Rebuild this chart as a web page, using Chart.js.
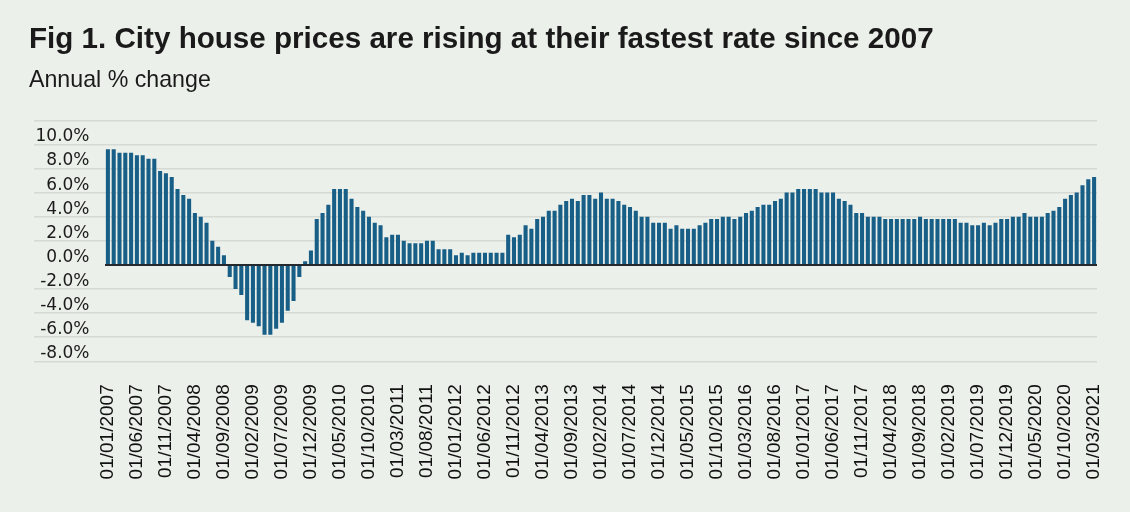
<!DOCTYPE html>
<html>
<head>
<meta charset="utf-8">
<script src="https://cdn.jsdelivr.net/npm/chart.js@4.4.1/dist/chart.umd.min.js"></script>
<style>
  html, body { margin: 0; padding: 0; background: #ecf0eb; }
  #wrap { position: relative; width: 1130px; height: 512px; overflow: hidden; }
  #chart { position: absolute; left: 0; top: 0; }
  .title { position: absolute; left: 29px; top: 23px; font: bold 29.6px "Liberation Sans", Arial, sans-serif; line-height: 1; color: #1a1a1a; white-space: nowrap; }
  .subtitle { position: absolute; left: 29px; top: 68px; font: 23.2px "Liberation Sans", Arial, sans-serif; line-height: 1; color: #1a1a1a; white-space: nowrap; }
</style>
</head>
<body>
<div id="wrap">
  <canvas id="chart" width="1130" height="512"></canvas>
  <div class="title">Fig 1. City house prices are rising at their fastest rate since 2007</div>
  <div class="subtitle">Annual % change</div>
</div>
<script>
// Meses (primer día de cada mes)
const categories = [
  "01/01/2007","01/02/2007","01/03/2007","01/04/2007","01/05/2007","01/06/2007","01/07/2007","01/08/2007","01/09/2007","01/10/2007","01/11/2007","01/12/2007",
  "01/01/2008","01/02/2008","01/03/2008","01/04/2008","01/05/2008","01/06/2008","01/07/2008","01/08/2008","01/09/2008","01/10/2008","01/11/2008","01/12/2008",
  "01/01/2009","01/02/2009","01/03/2009","01/04/2009","01/05/2009","01/06/2009","01/07/2009","01/08/2009","01/09/2009","01/10/2009","01/11/2009","01/12/2009",
  "01/01/2010","01/02/2010","01/03/2010","01/04/2010","01/05/2010","01/06/2010","01/07/2010","01/08/2010","01/09/2010","01/10/2010","01/11/2010","01/12/2010",
  "01/01/2011","01/02/2011","01/03/2011","01/04/2011","01/05/2011","01/06/2011","01/07/2011","01/08/2011","01/09/2011","01/10/2011","01/11/2011","01/12/2011",
  "01/01/2012","01/02/2012","01/03/2012","01/04/2012","01/05/2012","01/06/2012","01/07/2012","01/08/2012","01/09/2012","01/10/2012","01/11/2012","01/12/2012",
  "01/01/2013","01/02/2013","01/03/2013","01/04/2013","01/05/2013","01/06/2013","01/07/2013","01/08/2013","01/09/2013","01/10/2013","01/11/2013","01/12/2013",
  "01/01/2014","01/02/2014","01/03/2014","01/04/2014","01/05/2014","01/06/2014","01/07/2014","01/08/2014","01/09/2014","01/10/2014","01/11/2014","01/12/2014",
  "01/01/2015","01/02/2015","01/03/2015","01/04/2015","01/05/2015","01/06/2015","01/07/2015","01/08/2015","01/09/2015","01/10/2015","01/11/2015","01/12/2015",
  "01/01/2016","01/02/2016","01/03/2016","01/04/2016","01/05/2016","01/06/2016","01/07/2016","01/08/2016","01/09/2016","01/10/2016","01/11/2016","01/12/2016",
  "01/01/2017","01/02/2017","01/03/2017","01/04/2017","01/05/2017","01/06/2017","01/07/2017","01/08/2017","01/09/2017","01/10/2017","01/11/2017","01/12/2017",
  "01/01/2018","01/02/2018","01/03/2018","01/04/2018","01/05/2018","01/06/2018","01/07/2018","01/08/2018","01/09/2018","01/10/2018","01/11/2018","01/12/2018",
  "01/01/2019","01/02/2019","01/03/2019","01/04/2019","01/05/2019","01/06/2019","01/07/2019","01/08/2019","01/09/2019","01/10/2019","01/11/2019","01/12/2019",
  "01/01/2020","01/02/2020","01/03/2020","01/04/2020","01/05/2020","01/06/2020","01/07/2020","01/08/2020","01/09/2020","01/10/2020","01/11/2020","01/12/2020",
  "01/01/2021","01/02/2021","01/03/2021"
];

// Variación anual (%), un año por línea
const annualChange = [
  9.6, 9.6, 9.3, 9.3, 9.3, 9.1, 9.1, 8.8, 8.8, 7.8, 7.6, 7.3,
  6.3, 5.8, 5.5, 4.3, 4.0, 3.5, 2.0, 1.5, 0.8, -1.0, -2.0, -2.5,
  -4.6, -4.8, -5.1, -5.8, -5.8, -5.3, -4.8, -3.8, -3.0, -1.0, 0.3, 1.2,
  3.8, 4.3, 5.0, 6.3, 6.3, 6.3, 5.5, 4.8, 4.5, 4.0, 3.5, 3.3,
  2.3, 2.5, 2.5, 2.0, 1.8, 1.8, 1.8, 2.0, 2.0, 1.3, 1.3, 1.3,
  0.8, 1.0, 0.8, 1.0, 1.0, 1.0, 1.0, 1.0, 1.0, 2.5, 2.3, 2.5,
  3.3, 3.0, 3.8, 4.0, 4.5, 4.5, 5.0, 5.3, 5.5, 5.3, 5.8, 5.8,
  5.5, 6.0, 5.5, 5.5, 5.3, 5.0, 4.8, 4.5, 4.0, 4.0, 3.5, 3.5,
  3.5, 3.0, 3.3, 3.0, 3.0, 3.0, 3.3, 3.5, 3.8, 3.8, 4.0, 4.0,
  3.8, 4.0, 4.3, 4.5, 4.8, 5.0, 5.0, 5.3, 5.5, 6.0, 6.0, 6.3,
  6.3, 6.3, 6.3, 6.0, 6.0, 6.0, 5.5, 5.3, 5.0, 4.3, 4.3, 4.0,
  4.0, 4.0, 3.8, 3.8, 3.8, 3.8, 3.8, 3.8, 4.0, 3.8, 3.8, 3.8,
  3.8, 3.8, 3.8, 3.5, 3.5, 3.3, 3.3, 3.5, 3.3, 3.5, 3.8, 3.8,
  4.0, 4.0, 4.3, 4.0, 4.0, 4.0, 4.3, 4.5, 4.8, 5.5, 5.8, 6.0,
  6.6, 7.1, 7.3
];

// Eje Y: rango y paso de las líneas
const yMin = -8;
const yMax = 12;
const yStep = 2;
const labelEvery = 5;

const gridColor = "#d5dad4";
const axisColor = "#23292d";
const barColor = "#185f87";

new Chart(document.getElementById("chart"), {
  type: "bar",
  data: {
    labels: categories,
    datasets: [{
      data: annualChange,
      backgroundColor: barColor,
      borderWidth: 0,
      barPercentage: 0.7,
      categoryPercentage: 1.0
    }]
  },
  options: {
    responsive: false,
    animation: false,
    layout: { padding: { top: 120.3, right: 33, bottom: 0, left: 0 } },
    plugins: { legend: { display: false }, tooltip: { enabled: false } },
    scales: {
      x: {
        grid: { display: false, drawTicks: false },
        border: { display: false },
        ticks: {
          autoSkip: false,
          minRotation: 90,
          maxRotation: 90,
          padding: 23,
          color: "#111",
          font: { family: "'Liberation Sans', Arial, sans-serif", size: 19 },
          callback: (v, i) => (i % labelEvery === 0 ? categories[i] : "")
        },
        afterFit: (s) => { s.height = 150.7; s.paddingLeft = 0; s.paddingRight = 0; }
      },
      y: {
        min: yMin,
        max: yMax,
        border: { display: false },
        grid: {
          color: (ctx) => (ctx.tick.value === 0 ? axisColor : gridColor),
          lineWidth: (ctx) => (ctx.tick.value === 0 ? 2 : 1.5),
          tickColor: (ctx) => (ctx.tick.value === 0 ? "rgba(0,0,0,0)" : gridColor),
          tickLength: 71,
          tickWidth: 1.5
        },
        ticks: {
          stepSize: yStep,
          padding: -55.5,
          labelOffset: -7.5,
          color: "#1a1a1a",
          font: { family: "'DejaVu Sans', sans-serif", size: 17 },
          callback: (v) => (v === yMax ? "" : v.toFixed(1) + "%")
        },
        afterFit: (s) => { s.width = 105; s.paddingTop = 0; s.paddingBottom = 0; }
      }
    }
  }
});
</script>
</body>
</html>
